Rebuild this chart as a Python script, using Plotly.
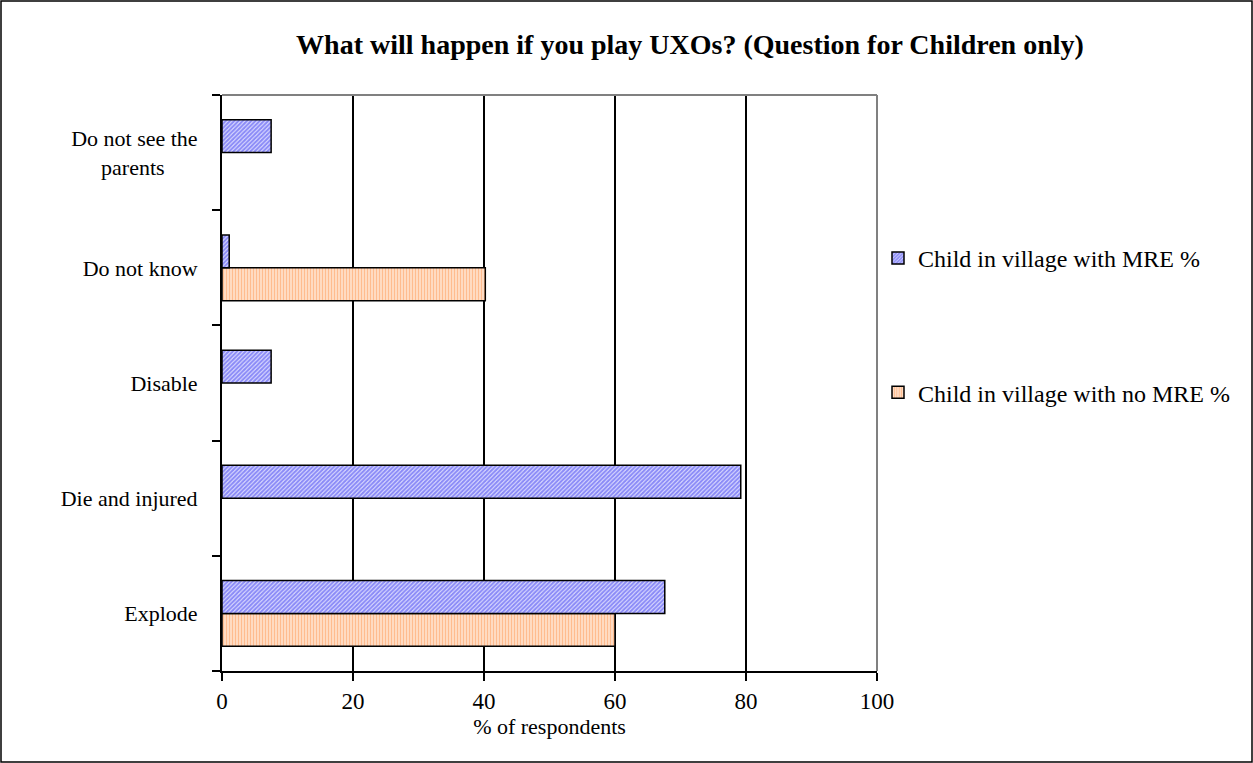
import plotly.graph_objects as go

categories = ["Explode", "Die and injured", "Disable", "Do not know", "Do not see the"]
category_labels = ["Explode", "Die and injured", "Disable", "Do not know",
                   "Do not see the<br>parents" + "&nbsp;" * 6]
mre_values = [67.6, 79.2, 7.5, 1.1, 7.5]
no_mre_values = [60.0, None, None, 40.2, None]
series_names = ["Child in village with MRE %", "Child in village with no MRE %"]
x_ticks = [0, 20, 40, 60, 80, 100]

FONT = "Liberation Serif, Times New Roman, serif"

L, R, T, B = 222, 376, 95, 92
W, H = 1253, 763
pw, ph = W - L - R, H - T - B

fig = go.Figure()
fig.add_trace(go.Bar(
    y=categories, x=no_mre_values, orientation="h", name=series_names[1],
    legendgroup="b", legendrank=2,
    marker=dict(color="white", line=dict(color="black", width=1.5),
                pattern=dict(shape="|", fgcolor="#FF7A1F", bgcolor="white", size=3, solidity=0.7)),
))
fig.add_trace(go.Bar(
    y=categories, x=mre_values, orientation="h", name=series_names[0],
    legendgroup="a", legendrank=1,
    marker=dict(color="white", line=dict(color="black", width=1.5),
                pattern=dict(shape="/", fgcolor="#2E2EF0", bgcolor="#E8E8FF", size=3, solidity=0.7)),
))

def px_x(p):
    return (p - L) / pw

def px_y(p):
    return (H - B - p) / ph

fig.update_layout(
    width=W, height=H,
    margin=dict(l=L, r=R, t=T, b=B),
    paper_bgcolor="white", plot_bgcolor="white",
    barmode="group", bargap=0.43, bargroupgap=0,
    font=dict(family=FONT, size=23, color="black"),
    title=dict(text="<b>What will happen if you play UXOs? (Question for Children only)</b>",
               x=px_x(690), xref="paper", xanchor="center", y=1 - 44 / H, yanchor="middle",
               font=dict(size=28, family=FONT)),
    showlegend=True,
    legend=dict(x=px_x(878), y=px_y(236), xanchor="left", yanchor="top",
                tracegroupgap=100, font=dict(size=24, family=FONT),
                bgcolor="rgba(0,0,0,0)", itemwidth=30),
    xaxis=dict(range=[0, 100], tickvals=x_ticks, showgrid=True, gridcolor="black", gridwidth=1.5,
               showline=True, linecolor="black", linewidth=2, ticks="outside", ticklen=8,
               tickcolor="black", tickwidth=1.5, zeroline=False,
               title=dict(text="% of respondents", standoff=6, font=dict(size=22)),
               tickfont=dict(size=23)),
    yaxis=dict(showline=True, linecolor="black", linewidth=2, ticks="outside", ticklen=8,
               tickson="boundaries", tickcolor="black", tickwidth=1.5, showgrid=False,
               tickmode="array", tickvals=categories, ticktext=category_labels,
               ticklabelstandoff=18, tickfont=dict(size=22)),
    shapes=[
        dict(type="line", xref="paper", yref="paper", x0=0, x1=1, y0=1, y1=1,
             line=dict(color="#808080", width=2)),
        dict(type="line", xref="paper", yref="paper", x0=1, x1=1, y0=0, y1=1,
             line=dict(color="#808080", width=2)),
        dict(type="rect", xref="paper", yref="paper", x0=px_x(1), x1=px_x(W - 1),
             y0=px_y(H - 1), y1=px_y(1), line=dict(color="black", width=1.5), layer="below"),
    ],
)

fig.write_html("out.html")
